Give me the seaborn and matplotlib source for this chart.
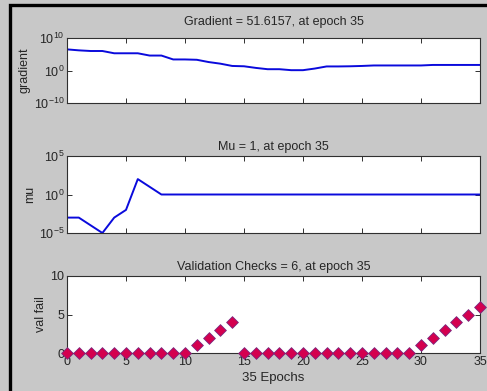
import numpy as np
import pandas as pd
import matplotlib
matplotlib.use("Agg")
import matplotlib.pyplot as plt
import matplotlib.ticker as mticker
from matplotlib.patches import Rectangle
import seaborn as sns

# values
epochs = list(range(36))
grad_log10 = [6.5, 6.2, 6.0, 6.0, 5.3, 5.3, 5.3, 4.6, 4.6, 3.4, 3.4, 3.3,
              2.6, 2.1, 1.4, 1.3, 0.8, 0.4, 0.4, 0.1, 0.1, 0.6, 1.25, 1.25,
              1.3, 1.4, 1.55, 1.55, 1.55, 1.55, 1.55, 1.71, 1.71, 1.71, 1.71, 1.71]
mu_log10 = [-3, -3, -4, -5, -3, -2, 2, 1] + [0] * 28
val_fail = [0] * 11 + [1, 2, 3, 4] + [0] * 15 + [1, 2, 3, 4, 5, 6]

df = pd.DataFrame({
    "epoch": epochs,
    "gradient": [10.0 ** v for v in grad_log10],
    "mu": [10.0 ** v for v in mu_log10],
    "val_fail": val_fail,
})

sns.set_style("ticks")
plt.rcParams["font.family"] = ["Liberation Sans", "DejaVu Sans"]
plt.rcParams["mathtext.fontset"] = "custom"
plt.rcParams["mathtext.rm"] = "Liberation Sans"

bg = "#c8c8c8"
fig = plt.figure(figsize=(4.87, 3.91), dpi=100, facecolor=bg)

# black frame of the screenshot (left and top edges)
fig.patches.append(Rectangle((10 / 487, -0.1), 1.2, 1.1 - 5 / 391,
                             transform=fig.transFigure, fill=False,
                             edgecolor="black", linewidth=2.4))

W, H = 487, 391
def box(x0, y0, x1, y1):
    return [x0 / W, 1 - y1 / H, (x1 - x0) / W, (y1 - y0) / H]

ax1 = fig.add_axes(box(67, 38, 480, 103))
ax2 = fig.add_axes(box(67, 156, 480, 233))
ax3 = fig.add_axes(box(67, 276, 480, 353))

line_c = "#0a0adc"
sns.lineplot(data=df, x="epoch", y="gradient", ax=ax1, color=line_c, linewidth=1.4)
sns.lineplot(data=df, x="epoch", y="mu", ax=ax2, color=line_c, linewidth=1.4)
sns.scatterplot(data=df, x="epoch", y="val_fail", ax=ax3, marker="D", s=36,
                color="#d4004f", edgecolor="#7a2a80", linewidth=0.6,
                clip_on=False, zorder=5)

titles = ["Gradient = 51.6157, at epoch 35", "Mu = 1, at epoch 35",
          "Validation Checks = 6, at epoch 35"]
ylabels = ["gradient", "mu", "val fail"]
pads = [9, 4.5, 4.5]

for ax, t, yl, p in zip([ax1, ax2, ax3], titles, ylabels, pads):
    ax.set_facecolor("white")
    ax.set_xlim(0, 35)
    ax.set_xticks(range(0, 36, 5))
    ax.set_title(t, fontsize=9, pad=p)
    ax.set_ylabel(yl, fontsize=9, labelpad=2)
    ax.set_xlabel("")
    for s in ax.spines.values():
        s.set_visible(True)
        s.set_color("#303030")
        s.set_linewidth(0.8)
    ax.tick_params(direction="in", top=True, right=True, length=3.5,
                   width=0.7, color="#303030", labelsize=9, pad=2)

ax1.set_yscale("log")
ax1.set_ylim(1e-10, 1e10)
ax1.yaxis.set_major_locator(mticker.FixedLocator([1e-10, 1e0, 1e10]))
ax1.yaxis.set_minor_locator(mticker.NullLocator())

ax2.set_yscale("log")
ax2.set_ylim(1e-5, 1e5)
ax2.yaxis.set_major_locator(mticker.FixedLocator([1e-5, 1e0, 1e5]))
ax2.yaxis.set_minor_locator(mticker.NullLocator())

ax1.set_xticklabels([])
ax2.set_xticklabels([])

ax3.set_ylim(0, 10)
ax3.set_yticks([0, 5, 10])
ax3.set_xlabel("35 Epochs", fontsize=9.5, labelpad=3)

fig.savefig("out.png", dpi=100, facecolor=bg)
